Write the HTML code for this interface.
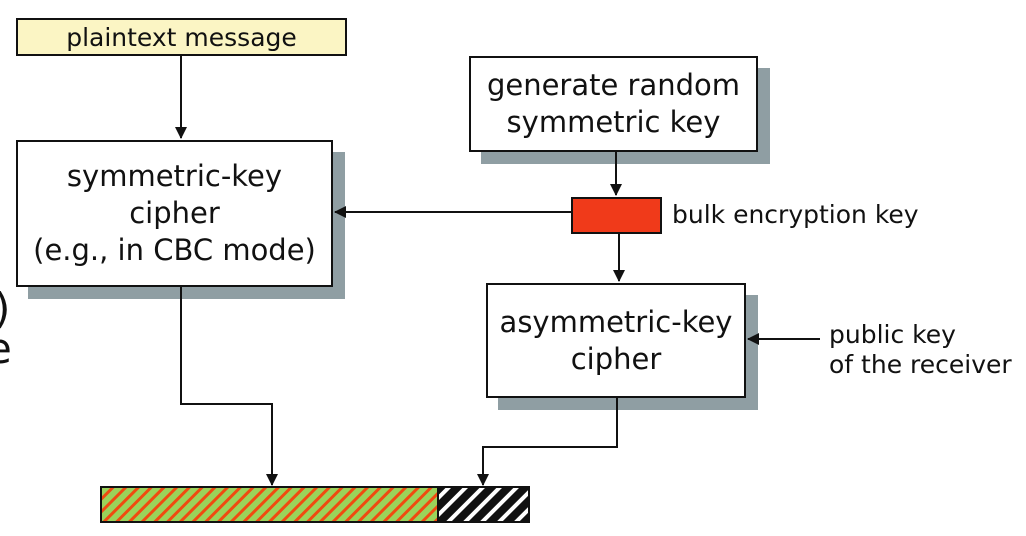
<!DOCTYPE html>
<html><head><style>
body{margin:0;width:1026px;height:536px;background:#fff;overflow:hidden;position:relative;font-family:"DejaVu Sans","Liberation Sans",sans-serif;}
.b{position:absolute;border:2px solid #111;background:#fff;box-sizing:border-box;display:flex;align-items:center;justify-content:center;text-align:center;color:#111;white-space:nowrap;}
.s{position:absolute;background:#8f9ea3;}
.t{position:absolute;color:#111;white-space:nowrap;}
</style></head><body>
<div class="t" style="left:-6px;top:288px;font-size:42px;line-height:42px">)</div>
<div class="t" style="left:-14px;top:328px;font-size:42px;line-height:42px">e</div>
<div class="s" style="left:28px;top:152px;width:317px;height:147px"></div>
<div class="s" style="left:481px;top:68px;width:289px;height:96px"></div>
<div class="s" style="left:498px;top:295px;width:260px;height:115px"></div>
<div class="b" style="left:16px;top:18px;width:331px;height:38px;background:#fbf5c4;font-size:25px">plaintext message</div>
<div class="b" style="left:16px;top:140px;width:317px;height:147px;font-size:29px;line-height:37px">symmetric-key<br>cipher<br>(e.g., in CBC mode)</div>
<div class="b" style="left:469px;top:56px;width:289px;height:96px;font-size:29px;line-height:37px">generate random<br>symmetric key</div>
<div class="b" style="left:571px;top:197px;width:91px;height:37px;background:#f03a1a"></div>
<div class="t" style="left:672px;top:200px;font-size:25px">bulk encryption key</div>
<div class="b" style="left:486px;top:283px;width:260px;height:115px;font-size:29px;line-height:37px">asymmetric-key<br>cipher</div>
<div class="t" style="left:829px;top:320px;font-size:25px;line-height:30px">public key<br>of the receiver</div>
<svg style="position:absolute;left:0;top:0" width="1026" height="536">
<defs>
<marker id="a" markerWidth="12" markerHeight="12" refX="11" refY="6" orient="auto" markerUnits="userSpaceOnUse"><path d="M0,0 L12,6 L0,12 z" fill="#111"/></marker>
<pattern id="g" width="9" height="9" patternUnits="userSpaceOnUse" patternTransform="rotate(45)"><rect width="9" height="9" fill="#9ad35a"/><rect width="3" height="9" fill="#f04a10"/></pattern>
<pattern id="k" width="12" height="12" patternUnits="userSpaceOnUse" patternTransform="rotate(45)"><rect width="12" height="12" fill="#111"/><rect width="4" height="12" fill="#fff"/></pattern>
</defs>
<g stroke="#111" stroke-width="2" fill="none">
<path d="M181 56 V138" marker-end="url(#a)"/>
<path d="M571 212 H335" marker-end="url(#a)"/>
<path d="M616 152 V195" marker-end="url(#a)"/>
<path d="M619 234 V281" marker-end="url(#a)"/>
<path d="M820 339 H748" marker-end="url(#a)"/>
<path d="M181 287 V404 H272 V485" marker-end="url(#a)"/>
<path d="M617 398 V447 H483 V485" marker-end="url(#a)"/>
</g>
<rect x="101" y="487" width="337" height="35" fill="url(#g)" stroke="#111" stroke-width="2"/>
<rect x="438" y="487" width="91" height="35" fill="url(#k)" stroke="#111" stroke-width="2"/>
</svg>
</body></html>
